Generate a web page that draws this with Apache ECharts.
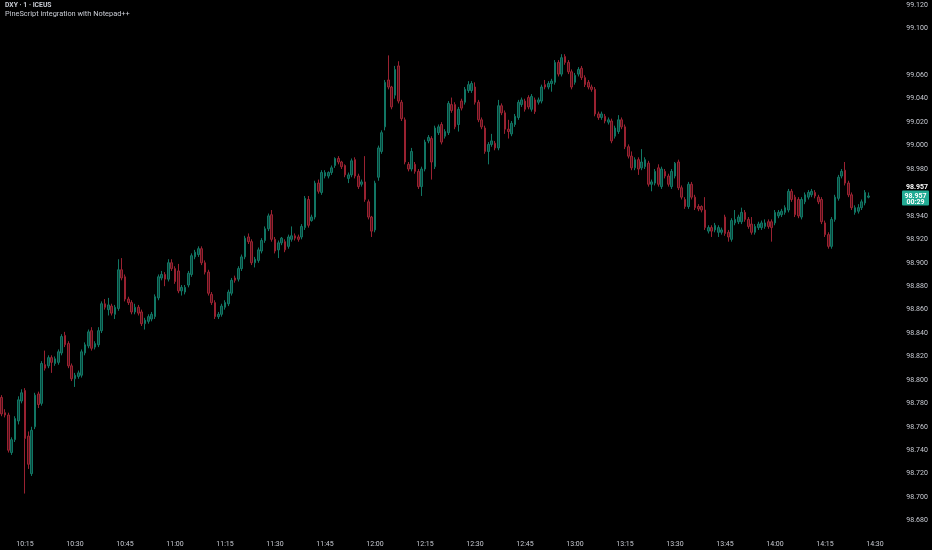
<!DOCTYPE html>
<html><head><meta charset="utf-8">
<script src="https://cdn.jsdelivr.net/npm/echarts@6/dist/echarts.min.js"></script>
<style>html,body{margin:0;padding:0;background:#000;}#c{width:932px;height:550px;}</style>
</head><body><div id="c"></div>
<script>
const symbolTitle = 'DXY · 1 · ICEUS';
const subTitle = 'PineScript integration with Notepad++';
const startMinute = 10 * 60 + 8;
const endMinute = 14 * 60 + 35;
const times = [];
for (let m = startMinute; m <= endMinute; m++) {
  times.push(String(Math.floor(m / 60)).padStart(2, '0') + ':' + String(m % 60).padStart(2, '0'));
}
// [open, close, low, high]
const ohlc = [
[98.785,98.771,98.769,98.787],[98.772,98.770,98.768,98.775],[98.770,98.740,98.738,98.772],[98.738,98.749,98.736,98.751],
[98.749,98.767,98.747,98.769],[98.765,98.783,98.762,98.786],[98.782,98.789,98.780,98.792],[98.791,98.750,98.703,98.793],
[98.752,98.728,98.724,98.756],[98.720,98.757,98.718,98.760],[98.760,98.787,98.758,98.789],[98.788,98.779,98.776,98.790],
[98.780,98.814,98.778,98.816],[98.813,98.810,98.808,98.825],[98.812,98.819,98.810,98.821],[98.819,98.815,98.806,98.821],
[98.814,98.818,98.812,98.820],[98.815,98.824,98.813,98.826],[98.823,98.837,98.821,98.839],[98.838,98.830,98.828,98.841],
[98.831,98.812,98.810,98.833],[98.812,98.801,98.799,98.814],[98.801,98.804,98.794,98.806],[98.803,98.806,98.801,98.808],
[98.804,98.824,98.802,98.826],[98.823,98.830,98.821,98.832],[98.829,98.841,98.827,98.843],[98.842,98.827,98.825,98.845],
[98.828,98.831,98.826,98.833],[98.830,98.842,98.828,98.845],
[98.842,98.865,98.840,98.867],[98.865,98.862,98.860,98.869],[98.860,98.864,98.855,98.870],[98.863,98.857,98.855,98.865],
[98.856,98.862,98.852,98.864],[98.861,98.894,98.859,98.903],[98.894,98.887,98.885,98.904],[98.888,98.869,98.867,98.890],
[98.869,98.866,98.864,98.871],[98.866,98.858,98.856,98.868],[98.858,98.862,98.856,98.865],[98.862,98.857,98.855,98.864],
[98.858,98.848,98.846,98.860],[98.848,98.851,98.843,98.853],[98.850,98.854,98.848,98.856],[98.852,98.856,98.850,98.858],
[98.854,98.871,98.852,98.873],[98.870,98.888,98.868,98.890],[98.887,98.890,98.885,98.893],[98.890,98.886,98.880,98.892],
[98.886,98.900,98.884,98.903],[98.900,98.895,98.893,98.903],[98.895,98.884,98.882,98.897],[98.893,98.876,98.874,98.899],
[98.876,98.879,98.872,98.881],[98.875,98.879,98.873,98.881],[98.881,98.891,98.879,98.893],[98.890,98.906,98.888,98.908],
[98.905,98.909,98.903,98.911],[98.907,98.912,98.905,98.914],[98.912,98.900,98.898,98.914],[98.900,98.892,98.890,98.902],
[98.892,98.874,98.872,98.894],[98.873,98.866,98.864,98.875],[98.866,98.854,98.852,98.868],[98.854,98.856,98.852,98.858],
[98.856,98.863,98.854,98.865],[98.862,98.866,98.860,98.868],[98.865,98.875,98.863,98.877],[98.874,98.885,98.872,98.887],
[98.887,98.885,98.883,98.889],[98.886,98.895,98.884,98.897],[98.895,98.905,98.893,98.907],[98.905,98.921,98.903,98.923],
[98.922,98.918,98.916,98.925],[98.918,98.900,98.898,98.920],[98.900,98.903,98.896,98.905],[98.902,98.911,98.900,98.913],
[98.910,98.919,98.908,98.921],[98.919,98.929,98.917,98.931],[98.929,98.940,98.927,98.942],[98.941,98.920,98.918,98.945],
[98.920,98.910,98.908,98.922],[98.911,98.917,98.904,98.919],[98.917,98.921,98.915,98.922],[98.918,98.911,98.909,98.920],
[98.914,98.922,98.912,98.924],[98.920,98.923,98.918,98.931],[98.923,98.921,98.919,98.925],[98.922,98.920,98.918,98.924],
[98.922,98.931,98.920,98.933],[98.930,98.955,98.928,98.957],[98.954,98.932,98.930,98.957],[98.936,98.939,98.935,98.941],
[98.939,98.968,98.937,98.970],[98.968,98.961,98.959,98.971],[98.960,98.977,98.958,98.979],[98.974,98.977,98.972,98.979],
[98.974,98.977,98.972,98.978],[98.977,98.981,98.975,98.983],[98.983,98.989,98.981,98.990],[98.989,98.986,98.984,98.991],
[98.986,98.982,98.980,98.987],[98.983,98.975,98.973,98.984],[98.972,98.975,98.968,98.977],[98.975,98.987,98.973,98.989],
[98.988,98.974,98.972,98.990],[98.974,98.965,98.963,98.976],[98.967,98.969,98.965,98.971],[98.969,98.954,98.952,98.991],
[98.952,98.939,98.937,98.954],[98.939,98.927,98.922,98.940],[98.928,98.968,98.926,98.970],[98.973,98.998,98.970,99.000],
[98.995,99.011,98.993,99.013],[99.016,99.054,99.013,99.056],[99.056,99.050,99.048,99.077],[99.050,99.033,99.031,99.051],
[99.043,99.065,99.040,99.068],[99.068,99.038,99.036,99.072],[99.037,99.023,99.021,99.039],[99.022,98.986,98.984,99.024],
[98.984,98.980,98.978,98.986],[98.980,98.995,98.978,98.998],[98.984,98.978,98.976,98.986],[98.978,98.965,98.963,98.980],
[98.965,98.980,98.957,98.982],[98.980,99.003,98.978,99.005],[99.004,99.007,99.002,99.009],[99.006,98.986,98.971,99.008],
[98.982,99.015,98.980,99.017],[99.011,99.016,99.009,99.018],[99.018,99.003,99.001,99.020],[99.008,99.012,99.006,99.014],
[99.011,99.036,99.009,99.038],[99.035,99.030,99.028,99.041],[99.035,99.016,99.014,99.037],[99.018,99.031,99.012,99.033],
[99.038,99.032,99.030,99.040],[99.037,99.048,99.035,99.050],[99.047,99.052,99.045,99.055],[99.047,99.053,99.045,99.055],
[99.050,99.037,99.035,99.054],[99.037,99.022,99.020,99.039],[99.022,99.016,99.014,99.024],[99.015,98.995,98.993,99.017],
[98.995,99.001,98.984,99.003],[99.001,99.004,98.999,99.010],[99.002,98.998,98.996,99.004],[98.998,99.034,98.996,99.039],
[99.034,99.028,99.026,99.036],[99.028,99.014,99.010,99.030],[99.014,99.012,99.006,99.022],[99.010,99.019,99.008,99.021],
[99.018,99.025,99.016,99.027],[99.024,99.037,99.022,99.039],[99.035,99.039,99.033,99.041],[99.038,99.031,99.029,99.040],
[99.041,99.033,99.031,99.043],[99.031,99.042,99.029,99.044],[99.039,99.029,99.027,99.041],[99.037,99.039,99.035,99.041],
[99.038,99.050,99.036,99.052],[99.052,99.050,99.048,99.056],[99.050,99.053,99.048,99.055],[99.053,99.055,99.046,99.057],
[99.054,99.071,99.052,99.073],[99.071,99.061,99.059,99.073],[99.061,99.075,99.059,99.078],[99.076,99.071,99.069,99.078],
[99.071,99.063,99.061,99.073],[99.063,99.050,99.048,99.065],[99.054,99.060,99.052,99.062],[99.061,99.065,99.059,99.067],
[99.066,99.058,99.056,99.068],[99.058,99.052,99.050,99.060],[99.054,99.050,99.048,99.056],[99.050,99.048,99.046,99.052],
[99.048,99.027,99.025,99.050],[99.027,99.024,99.022,99.029],[99.024,99.027,99.022,99.029],[99.025,99.021,99.019,99.027],
[99.020,99.022,99.018,99.024],[99.021,99.004,99.002,99.023],[99.008,99.015,99.006,99.017],[99.012,99.022,99.010,99.026],
[99.022,99.016,99.014,99.024],[99.016,98.999,98.997,99.018],[98.999,98.991,98.989,99.001],[98.991,98.981,98.979,98.995],
[98.981,98.988,98.979,98.990],[98.988,98.980,98.975,98.990],[98.981,98.986,98.979,98.997],[98.982,98.988,98.980,98.990],
[98.985,98.967,98.965,98.987],[98.967,98.969,98.961,98.971],[98.968,98.978,98.966,98.980],[98.981,98.967,98.965,98.984],
[98.965,98.980,98.963,98.982],[98.978,98.974,98.972,98.980],[98.974,98.967,98.965,98.976],[98.965,98.978,98.963,98.980],
[98.974,98.985,98.972,98.986],[98.986,98.964,98.962,98.988],[98.964,98.956,98.954,98.966],[98.954,98.948,98.946,98.956],
[98.948,98.967,98.946,98.969],[98.967,98.956,98.954,98.969],[98.956,98.947,98.945,98.958],[98.948,98.946,98.944,98.950],
[98.948,98.945,98.943,98.949],[98.945,98.930,98.928,98.956],[98.927,98.930,98.925,98.932],[98.930,98.927,98.922,98.932],
[98.928,98.932,98.926,98.934],[98.926,98.930,98.922,98.932],[98.926,98.928,98.924,98.930],[98.939,98.925,98.923,98.941],
[98.926,98.922,98.918,98.928],[98.920,98.936,98.918,98.938],[98.934,98.937,98.932,98.945],[98.935,98.939,98.933,98.941],
[98.935,98.943,98.933,98.947],[98.943,98.937,98.935,98.945],[98.937,98.931,98.929,98.939],[98.933,98.926,98.924,98.939],
[98.926,98.931,98.924,98.933],[98.930,98.933,98.928,98.935],[98.930,98.934,98.928,98.936],[98.931,98.934,98.929,98.937],
[98.935,98.931,98.929,98.937],[98.935,98.930,98.918,98.937],[98.934,98.943,98.932,98.945],[98.940,98.943,98.938,98.945],
[98.941,98.944,98.939,98.946],[98.943,98.947,98.941,98.949],[98.945,98.961,98.943,98.963],[98.961,98.954,98.952,98.963],
[98.956,98.941,98.939,98.958],[98.954,98.940,98.938,98.956],[98.939,98.954,98.937,98.956],[98.952,98.958,98.950,98.960],
[98.956,98.960,98.954,98.962],[98.958,98.961,98.956,98.963],[98.960,98.957,98.955,98.962],[98.956,98.952,98.950,98.958],
[98.954,98.935,98.933,98.956],[98.934,98.924,98.922,98.936],[98.924,98.914,98.912,98.926],[98.914,98.937,98.912,98.939],
[98.937,98.956,98.935,98.958],[98.955,98.973,98.953,98.975],[98.974,98.978,98.972,98.980],[98.979,98.968,98.966,98.986],
[98.968,98.958,98.956,98.970],[98.958,98.947,98.945,98.960],[98.943,98.947,98.941,98.949],[98.944,98.947,98.942,98.950],
[98.947,98.952,98.945,98.954],[98.951,98.960,98.949,98.962],[98.956,98.957,98.955,98.960]
];
const lastPrice = 98.957;
const countdown = '00:29';
const priceMin = 98.68, priceMax = 99.12, priceStep = 0.02;
const hiddenTicks = [98.96, 99.08];

const UP = '#09443b', UP_B = '#117664', DN = '#4a1018', DN_B = '#9a2231';
const TXT = '#c9ccd4';

const chart = echarts.init(document.getElementById('c'), null, {renderer: 'canvas'});
chart.setOption({
  backgroundColor: '#000000',
  animation: false,
  title: {
    text: symbolTitle, subtext: subTitle, left: 5, top: 2, itemGap: 2, padding: 0,
    textStyle: {color: TXT, fontSize: 6.8, fontWeight: 'bold', fontFamily: 'Roboto'},
    subtextStyle: {color: TXT, fontSize: 7.4, fontFamily: 'Roboto'}
  },
  grid: {left: 0, top: 5, width: 893.33, height: 515.5},
  xAxis: {
    type: 'category', data: times, boundaryGap: true,
    axisLine: {show: false}, axisTick: {show: false}, splitLine: {show: false},
    axisLabel: {
      color: TXT, fontSize: 7, fontFamily: 'Roboto', margin: 20,
      interval: (i, v) => parseInt(v.slice(3), 10) % 15 === 0
    }
  },
  yAxis: {
    type: 'value', position: 'right', min: priceMin, max: priceMax, interval: priceStep,
    axisLine: {show: false}, axisTick: {show: false}, splitLine: {show: false},
    axisLabel: {
      color: TXT, fontSize: 7, fontFamily: 'Roboto', align: 'left', margin: 13,
      formatter: v => hiddenTicks.some(h => Math.abs(h - v) < 1e-6) ? '' : v.toFixed(3)
    }
  },
  series: [{
    type: 'candlestick', data: ohlc, barWidth: 2,
    itemStyle: {color: UP, color0: DN, borderColor: UP_B, borderColor0: DN_B, borderWidth: 1}
  }]
});
const yPix = chart.convertToPixel({yAxisIndex: 0}, lastPrice);
chart.setOption({
  graphic: [
    {
      type: 'text', left: 906, top: yPix - 12, z: 10,
      style: {text: lastPrice.toFixed(3), fill: '#ffffff', fontSize: 7, fontWeight: 'bold', fontFamily: 'Roboto'}
    },
    {
      type: 'rect', z: 10,
      shape: {x: 902, y: yPix - 5.5, width: 27, height: 15, r: 1},
      style: {fill: '#22ab94'}
    },
    {
      type: 'text', z: 11, x: 915.5, y: yPix,
      style: {text: lastPrice.toFixed(3), fill: '#ffffff', fontSize: 7, fontWeight: 'bold', fontFamily: 'Roboto', align: 'center', verticalAlign: 'middle'}
    },
    {
      type: 'text', z: 11, x: 915.5, y: yPix + 6.5,
      style: {text: countdown, fill: '#ffffff', fontSize: 7, fontWeight: 'bold', fontFamily: 'Roboto', align: 'center', verticalAlign: 'middle'}
    }
  ]
});
</script></body></html>
